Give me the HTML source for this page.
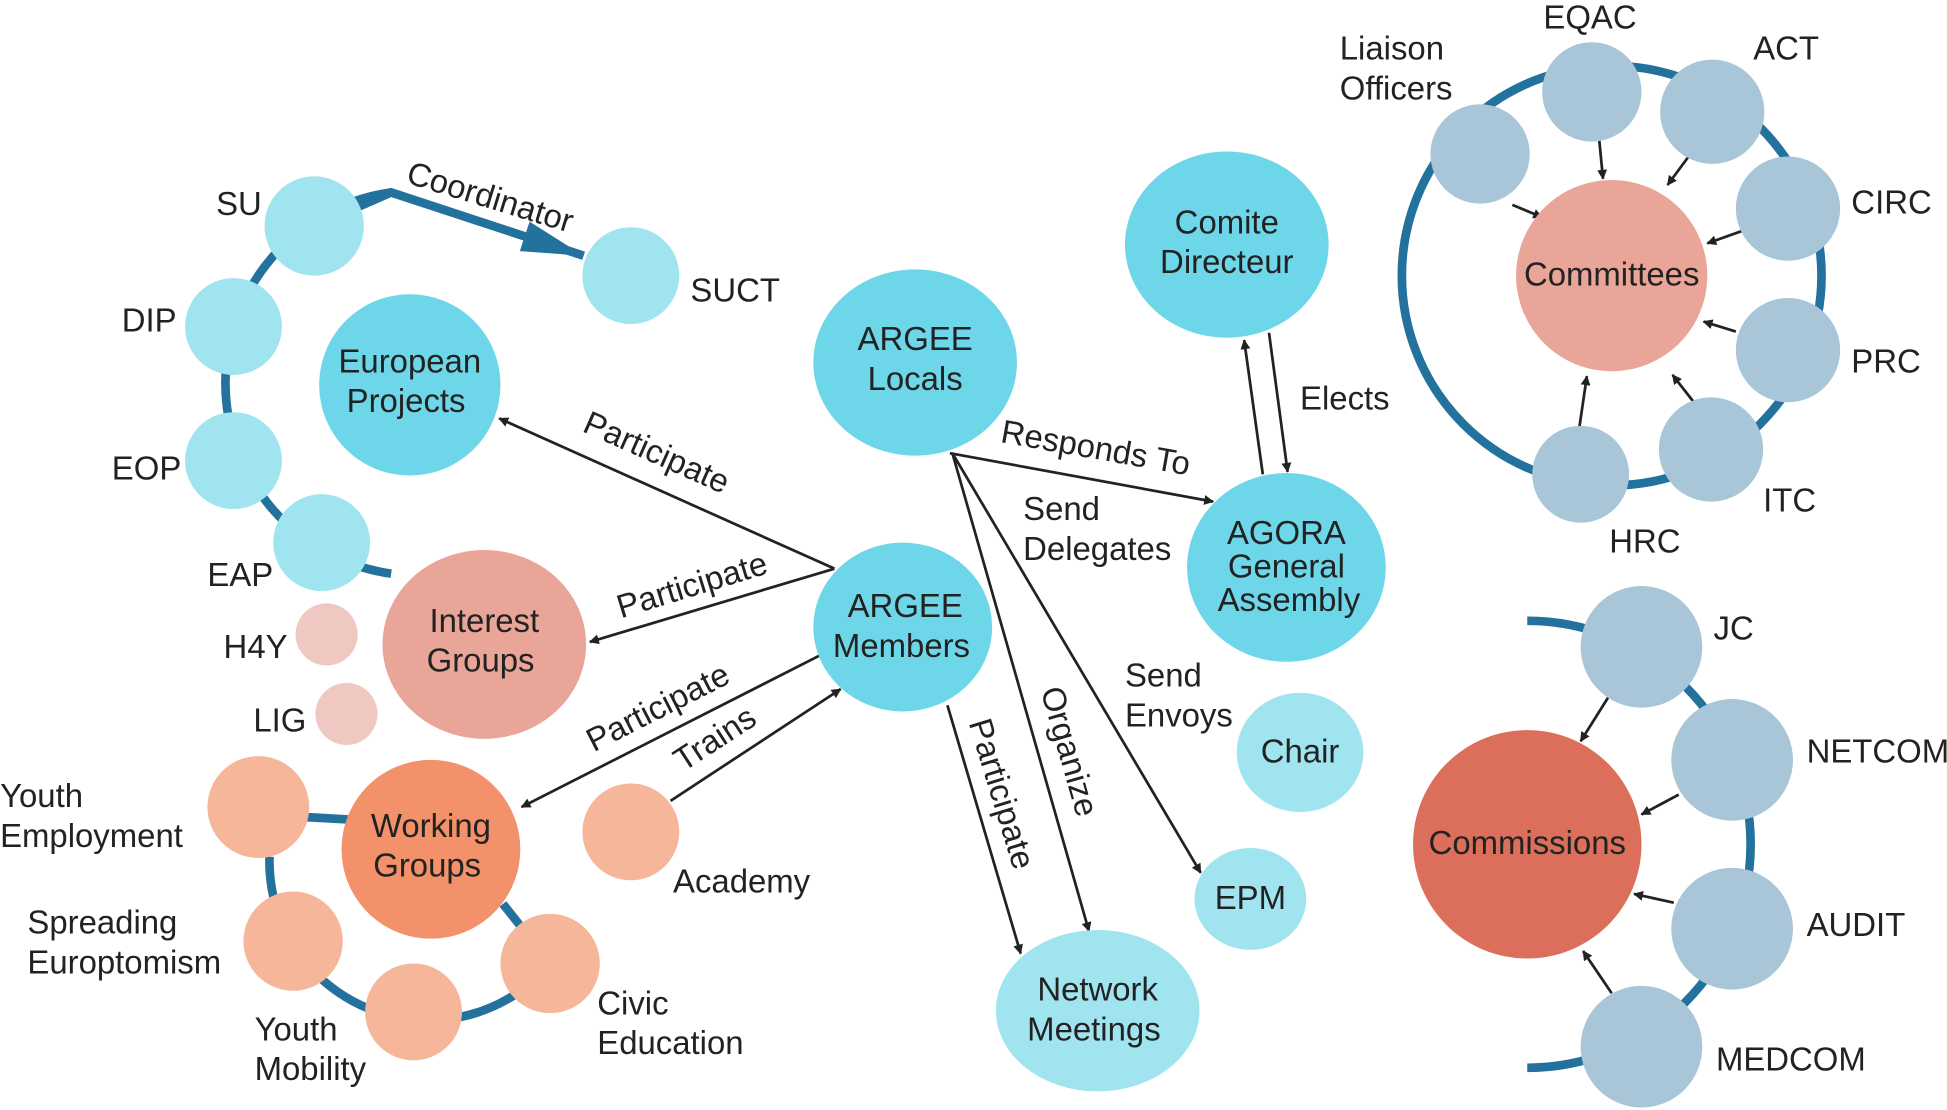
<!DOCTYPE html>
<html><head><meta charset="utf-8"><style>
html,body{margin:0;padding:0;background:#fff}
svg{display:block}
text{font-family:"Liberation Sans","DejaVu Sans",sans-serif;font-size:26.5px;fill:#222}
.c{text-anchor:middle}
</style></head><body>
<svg width="1947" height="1110" viewBox="0 0 1568 894" xmlns="http://www.w3.org/2000/svg">
<defs>
<marker id="a" viewBox="0 0 10 10" refX="9" refY="5" markerWidth="8" markerHeight="8" markerUnits="userSpaceOnUse" orient="auto"><path d="M0,0 L10,5 L0,10 z" fill="#222"/></marker>
<marker id="b" viewBox="0 0 20 10" refX="20" refY="5" markerWidth="50" markerHeight="25" markerUnits="userSpaceOnUse" orient="auto"><path d="M0,0 L20,5 L0,10 z" fill="#23729e"/></marker>
</defs>
<g fill="none" stroke="#23729e" stroke-width="7">
<circle cx="1298" cy="222" r="169"/>
<path d="M1230,500 A180,180 0 0 1 1230,860"/>
<path d="M315,155 A155,155 0 0 0 315,462"/>
<path d="M253,182 L315,155 L470,206" marker-end="url(#b)"/>
<path d="M217,690 A128,128 0 0 0 443,776 L405,728"/>
<path d="M245,658 L280,660"/>
</g>
<g stroke="#222" stroke-width="2.2" fill="none">
<line x1="672" y1="458" x2="402" y2="337" marker-end="url(#a)"/>
<line x1="672" y1="458" x2="475" y2="517" marker-end="url(#a)"/>
<line x1="660" y1="528" x2="420" y2="650" marker-end="url(#a)"/>
<line x1="540" y1="645" x2="677" y2="555" marker-end="url(#a)"/>
<line x1="765" y1="365" x2="977" y2="404" marker-end="url(#a)"/>
<line x1="767" y1="365" x2="967" y2="703" marker-end="url(#a)"/>
<line x1="767" y1="365" x2="877" y2="750" marker-end="url(#a)"/>
<line x1="763" y1="568" x2="822" y2="768" marker-end="url(#a)"/>
<line x1="1017" y1="382" x2="1002" y2="274" marker-end="url(#a)"/>
<line x1="1022" y1="268" x2="1037" y2="380" marker-end="url(#a)"/>
<line x1="1218" y1="165" x2="1242" y2="175" marker-end="url(#a)"/>
<line x1="1288" y1="113" x2="1291" y2="144" marker-end="url(#a)"/>
<line x1="1360" y1="126" x2="1343" y2="149" marker-end="url(#a)"/>
<line x1="1403" y1="186" x2="1375" y2="196" marker-end="url(#a)"/>
<line x1="1398" y1="267" x2="1372" y2="259" marker-end="url(#a)"/>
<line x1="1365" y1="325" x2="1347" y2="302" marker-end="url(#a)"/>
<line x1="1272" y1="344" x2="1278" y2="303" marker-end="url(#a)"/>
<line x1="1295" y1="562" x2="1273" y2="597" marker-end="url(#a)"/>
<line x1="1352" y1="640" x2="1322" y2="656" marker-end="url(#a)"/>
<line x1="1348" y1="727" x2="1316" y2="720" marker-end="url(#a)"/>
<line x1="1298" y1="800" x2="1275" y2="766" marker-end="url(#a)"/>
</g>
<g>
<circle cx="253" cy="182" r="40" fill="#a0e4f0"/>
<circle cx="508" cy="222" r="39" fill="#a0e4f0"/>
<circle cx="188" cy="263" r="39" fill="#a0e4f0"/>
<circle cx="188" cy="371" r="39" fill="#a0e4f0"/>
<circle cx="259" cy="437" r="39" fill="#a0e4f0"/>
<circle cx="330" cy="310" r="73" fill="#6dd6e8"/>
<ellipse cx="390" cy="519" rx="82" ry="76" fill="#e8a598"/>
<circle cx="263" cy="511" r="25" fill="#f0c8c2"/>
<circle cx="279" cy="575" r="25" fill="#f0c8c2"/>
<circle cx="347" cy="684" r="72" fill="#f2916a"/>
<circle cx="208" cy="650" r="41" fill="#f6b699"/>
<circle cx="236" cy="758" r="40" fill="#f6b699"/>
<circle cx="333" cy="815" r="39" fill="#f6b699"/>
<circle cx="443" cy="776" r="40" fill="#f6b699"/>
<circle cx="508" cy="670" r="39" fill="#f6b699"/>
<ellipse cx="737" cy="292" rx="82" ry="75" fill="#6dd6e8"/>
<ellipse cx="727" cy="505" rx="72" ry="68" fill="#6dd6e8"/>
<ellipse cx="988" cy="197" rx="82" ry="75" fill="#6dd6e8"/>
<ellipse cx="1036" cy="457" rx="80" ry="76" fill="#6dd6e8"/>
<ellipse cx="1047" cy="606" rx="51" ry="48" fill="#a0e4f0"/>
<ellipse cx="1007" cy="724" rx="45" ry="41" fill="#a0e4f0"/>
<ellipse cx="884" cy="814" rx="82" ry="65" fill="#a0e4f0"/>
<circle cx="1298" cy="222" r="77" fill="#e8a598"/>
<g fill="#a8c6d8">
<circle cx="1192" cy="124" r="40"/><circle cx="1282" cy="74" r="40"/><circle cx="1379" cy="90" r="42"/>
<circle cx="1440" cy="168" r="42"/><circle cx="1440" cy="282" r="42"/><circle cx="1378" cy="362" r="42"/>
<circle cx="1273" cy="382" r="39"/>
<circle cx="1322" cy="521" r="49"/><circle cx="1395" cy="612" r="49"/><circle cx="1395" cy="748" r="49"/><circle cx="1322" cy="843" r="49"/>
</g>
<circle cx="1230" cy="680" r="92" fill="#dc6f5b"/>
</g>
<g>
<text x="174" y="173">SU</text>
<text x="556" y="243">SUCT</text>
<text x="98" y="267">DIP</text>
<text x="90" y="386">EOP</text>
<text x="167" y="472">EAP</text>
<text x="180" y="530">H4Y</text>
<text x="204" y="589">LIG</text>
<text class="c" x="330" y="300">European</text><text class="c" x="327" y="332">Projects</text>
<text class="c" x="390" y="509">Interest</text><text class="c" x="387" y="541">Groups</text>
<text class="c" x="347" y="674">Working</text><text class="c" x="344" y="706">Groups</text>
<text x="0" y="650">Youth</text><text x="0" y="682">Employment</text>
<text x="22" y="752">Spreading</text><text x="22" y="784">Europtomism</text>
<text x="205" y="838">Youth</text><text x="205" y="870">Mobility</text>
<text x="481" y="817">Civic</text><text x="481" y="849">Education</text>
<text x="542" y="719">Academy</text>
<text class="c" x="737" y="282">ARGEE</text><text class="c" x="737" y="314">Locals</text>
<text class="c" x="729" y="497">ARGEE</text><text class="c" x="726" y="529">Members</text>
<text class="c" x="988" y="188">Comite</text><text class="c" x="988" y="220">Directeur</text>
<text class="c" x="1036" y="438">AGORA</text><text class="c" x="1036" y="465">General</text><text class="c" x="1038" y="492">Assembly</text>
<text class="c" x="1047" y="614">Chair</text>
<text class="c" x="1007" y="732">EPM</text>
<text class="c" x="884" y="806">Network</text><text class="c" x="881" y="838">Meetings</text>
<text x="1047" y="330">Elects</text>
<text x="824" y="419">Send</text><text x="824" y="451">Delegates</text>
<text x="906" y="553">Send</text><text x="906" y="585">Envoys</text>
<text class="c" x="1298" y="230">Committees</text>
<text class="c" x="1230" y="688">Commissions</text>
<text x="1079" y="48">Liaison</text><text x="1079" y="80">Officers</text>
<text x="1243" y="23">EQAC</text>
<text x="1412" y="48">ACT</text>
<text x="1491" y="172">CIRC</text>
<text x="1491" y="300">PRC</text>
<text x="1420" y="412">ITC</text>
<text x="1296" y="445">HRC</text>
<text x="1380" y="515">JC</text>
<text x="1455" y="614">NETCOM</text>
<text x="1455" y="754">AUDIT</text>
<text x="1382" y="862">MEDCOM</text>
<text transform="translate(326,147) rotate(17)">Coordinator</text>
<text transform="translate(468,347) rotate(24)">Participate</text>
<text transform="translate(500,498) rotate(-17)">Participate</text>
<text transform="translate(478,606) rotate(-27)">Participate</text>
<text transform="translate(550,622) rotate(-33)">Trains</text>
<text transform="translate(805,356) rotate(10)">Responds To</text>
<text transform="translate(838,556) rotate(74)">Organize</text>
<text transform="translate(780,582) rotate(73)">Participate</text>
</g>
</svg>
</body></html>
